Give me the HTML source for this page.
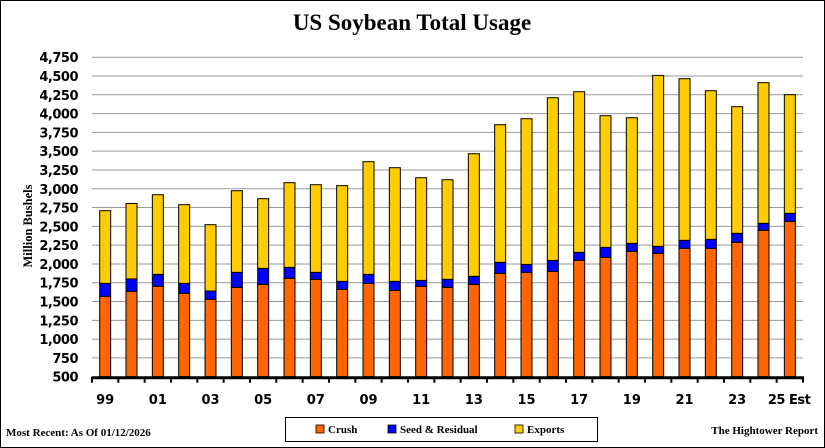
<!DOCTYPE html>
<html><head><meta charset="utf-8"><style>
body{margin:0;background:#fff}
svg{display:block}
</style></head><body>
<svg width="825" height="448" xmlns="http://www.w3.org/2000/svg">
<rect x="0.5" y="0.5" width="824" height="447" fill="#fff" stroke="#000"/>
<text x="412" y="30" text-anchor="middle" font-family="Liberation Serif, serif" font-weight="bold" font-size="23">US Soybean Total Usage</text>
<text transform="translate(32,226) rotate(-90)" text-anchor="middle" font-family="Liberation Serif, serif" font-weight="bold" font-size="12.5">Million Bushels</text>
<g id="grid"></g><g id="bars"></g><g id="axes"></g>
<g>
<rect x="285.5" y="417.5" width="312" height="24" fill="#fff" stroke="#000"/>
<rect x="316" y="425" width="8" height="8" fill="#FF6600" stroke="#000" stroke-width="0.8"/>
<text x="328" y="433" font-family="Liberation Serif, serif" font-weight="bold" font-size="11">Crush</text>
<rect x="388" y="425" width="8" height="8" fill="#0000FF" stroke="#000" stroke-width="0.8"/>
<text x="400" y="433" font-family="Liberation Serif, serif" font-weight="bold" font-size="11">Seed &amp; Residual</text>
<rect x="515" y="425" width="8" height="8" fill="#FFCC00" stroke="#000" stroke-width="0.8"/>
<text x="527" y="433" font-family="Liberation Serif, serif" font-weight="bold" font-size="11">Exports</text>
</g>
<text x="6" y="436" font-family="Liberation Serif, serif" font-weight="bold" font-size="11">Most Recent: As Of 01/12/2026</text>
<text x="818" y="434" text-anchor="end" font-family="Liberation Serif, serif" font-weight="bold" font-size="11">The Hightower Report</text>
</svg>
<script>
const years=["99","00","01","02","03","04","05","06","07","08","09","10","11","12","13","14","15","16","17","18","19","20","21","22","23","24","25"];
const crush=[1569,1635,1702,1609,1529,1688,1728,1808,1795,1662,1742,1648,1702,1688,1728,1875,1888,1901,2047,2087,2167,2141,2207,2207,2287,2447,2566];
const seed=[173,166,159,133,111,200,213,146,93,106,119,120,79,107,107,146,106,146,107,133,107,93,107,120,120,93,107];
const exports=[966,1003,1060,1046,882,1086,927,1127,1166,1273,1499,1512,1366,1325,1631,1831,1938,2164,2137,1752,1671,2274,2150,1977,1685,1871,1578];
const yTicks=[500,750,1000,1250,1500,1750,2000,2250,2500,2750,3000,3250,3500,3750,4000,4250,4500,4750];
const xLabels=["99","01","03","05","07","09","11","13","15","17","19","21","23","25 Est"];
const NS="http://www.w3.org/2000/svg";
const X0=92,X1=803,Y0=376.7,Y1=76,VMIN=500,VMAX=4500;
const slot=(X1-X0)/years.length;
function y(v){return Y0-(v-VMIN)/(VMAX-VMIN)*(Y0-Y1);}
function xc(i){return X0+slot*(i+0.5);}
function mk(tag,attrs,parent){const e=document.createElementNS(NS,tag);for(const k in attrs)e.setAttribute(k,attrs[k]);parent.appendChild(e);return e;}
const grid=document.getElementById('grid'),bars=document.getElementById('bars'),axes=document.getElementById('axes');
yTicks.forEach(t=>{
 if(t>VMIN){const l=mk('line',{x1:X0,x2:X1,y1:y(t),y2:y(t),stroke:'#999','stroke-width':1},grid);
 
 }
 const tx=mk('text',{x:78,y:y(t)+5,'text-anchor':'end','font-family':'DejaVu Sans, sans-serif','font-weight':'bold','font-size':13,'letter-spacing':'-0.5'},axes);
 tx.textContent=t.toLocaleString('en-US');
 
 
});
const bw=11;
years.forEach((yr,i)=>{
 const x=xc(i)-bw/2;
 const a=crush[i],b=a+seed[i],c=b+exports[i];
 const r1=mk('rect',{x:x,y:y(a),width:bw,height:Y0-y(a),fill:'#FF6600',stroke:'#000','stroke-width':1},bars);
 
 
 const r2=mk('rect',{x:x,y:y(b),width:bw,height:y(a)-y(b),fill:'#0000FF',stroke:'#000','stroke-width':1},bars);
 
 
 const r3=mk('rect',{x:x,y:y(c),width:bw,height:y(b)-y(c),fill:'#FFCC00',stroke:'#000','stroke-width':1},bars);
 
 
});
const ax=mk('line',{x1:X0,x2:X1+1,y1:Y0+1,y2:Y0+1,stroke:'#000','stroke-width':3},axes);


for(let i=0;i<=years.length;i++){
 const tk=mk('line',{x1:X0+slot*i,x2:X0+slot*i,y1:Y0,y2:Y0+6,stroke:'#000','stroke-width':2},axes);
 
 
}
xLabels.forEach((lb,j)=>{
 const i=j*2;
 const t=mk('text',{x:xc(i),y:404,'font-family':'DejaVu Sans, sans-serif','font-weight':'bold','font-size':13},axes);
 if(lb.indexOf(' ')>0){t.setAttribute('x',xc(i)-22);t.setAttribute('text-anchor','start');t.setAttribute('letter-spacing','-0.5');}else t.setAttribute('text-anchor','middle');
 t.textContent=lb;
 
 
});
</script>
</body></html>
